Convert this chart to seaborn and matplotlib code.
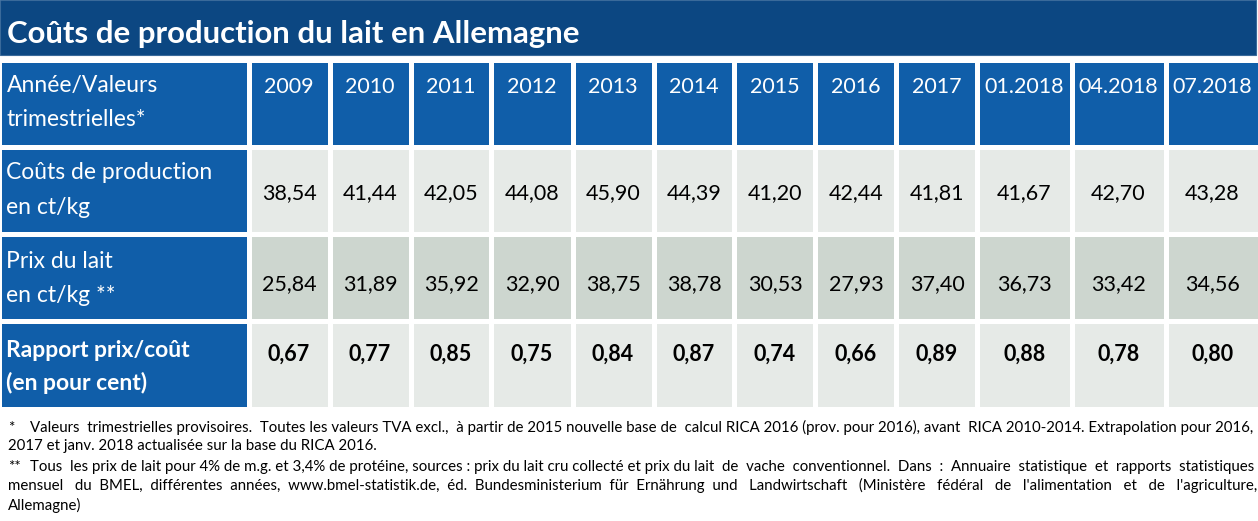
import numpy as np
import matplotlib
matplotlib.use("Agg")
import matplotlib.pyplot as plt
from matplotlib.colors import ListedColormap
from matplotlib.patches import Rectangle
import seaborn as sns

# --- données ---
titre = "Coûts de production du lait en Allemagne"
periodes = ["2009", "2010", "2011", "2012", "2013", "2014", "2015", "2016",
            "2017", "01.2018", "04.2018", "07.2018"]
libelles = [["Année/Valeurs", "trimestrielles*"],
            ["Coûts de production", "en ct/kg"],
            ["Prix du lait", "en ct/kg **"],
            ["Rapport prix/coût", "(en pour cent)"]]
couts = [38.54, 41.44, 42.05, 44.08, 45.90, 44.39, 41.20, 42.44, 41.81, 41.67, 42.70, 43.28]
prix = [25.84, 31.89, 35.92, 32.90, 38.75, 38.78, 30.53, 27.93, 37.40, 36.73, 33.42, 34.56]
rapport = [0.67, 0.77, 0.85, 0.75, 0.84, 0.87, 0.74, 0.66, 0.89, 0.88, 0.78, 0.80]
notes = [
    ("*", "Valeurs trimestrielles provisoires. Toutes les valeurs TVA excl., à partir de 2015 nouvelle base de calcul RICA 2016 (prov. pour 2016), avant RICA 2010-2014. Extrapolation pour 2016,", True),
    ("", "2017 et janv. 2018 actualisée sur la base du RICA 2016.", False),
    ("**", "Tous les prix de lait pour 4% de m.g. et 3,4% de protéine, sources : prix du lait cru collecté et prix du lait de vache conventionnel. Dans : Annuaire statistique et rapports statistiques", True),
    ("", "mensuel du BMEL, différentes années, www.bmel-statistik.de, éd. Bundesministerium für Ernährung und Landwirtschaft (Ministère fédéral de l'alimentation et de l'agriculture,", True),
    ("", "Allemagne)", False),
]

BLEU_TITRE = "#0c4782"
BLEU = "#105ea9"
CLAIR = "#e6eae7"
MOYEN = "#cdd6cf"

W, H = 1258, 521
sns.set_style("white")
plt.rcParams["font.family"] = ["Lato", "DejaVu Sans"]

fig = plt.figure(figsize=(W / 100, H / 100), dpi=100)
fig.patch.set_facecolor("white")


def fx(px):
    return px / W


def fy(py):
    return 1 - py / H


# bandeau titre
fig.patches.append(Rectangle((fx(0), fy(55)), fx(1256), 55 / H, transform=fig.transFigure,
                             facecolor=BLEU_TITRE, edgecolor="#3a6a9a", linewidth=0.8))
fig.text(fx(7), fy(34), titre, color="white", fontsize=22.4, fontweight="bold", va="center")

# tableau : trois axes (libellés, années, trimestres)
top, bot = 59.5, 408.5
codes_lignes = [0, 1, 2, 1]
cmap = ListedColormap([BLEU, CLAIR, MOYEN])
valeurs = [None, couts, prix, rapport]
n_an = 9
blocs = [(-1.5, 248.5, None), (248.5, 977.5, slice(0, n_an)), (977.5, 1259.5, slice(n_an, None))]

for x0, x1, sl in blocs:
    ax = fig.add_axes([fx(x0), fy(bot), fx(x1) - fx(x0), (bot - top) / H])
    ncol = 1 if sl is None else len(periodes[sl])
    mat = np.array([[c] * ncol for c in codes_lignes]) if sl is not None else np.zeros((4, 1))
    sns.heatmap(mat, ax=ax, cmap=cmap, vmin=-0.5, vmax=2.5, cbar=False,
                linewidths=2.2, linecolor="white", xticklabels=False, yticklabels=False)
    ax.set_xlabel("")
    ax.set_ylabel("")
    if sl is None:
        dy = [(0.30, 0.69), (0.295, 0.70), (0.32, 0.705), (0.34, 0.71)]
        for r, lignes in enumerate(libelles):
            poids = "bold" if r == 3 else "normal"
            for k, txt in enumerate(lignes):
                ax.text(8 / 250, r + dy[r][k], txt, color="white", fontsize=16.5,
                        fontweight=poids, va="center", ha="left")
        continue
    for j, per in enumerate(periodes[sl]):
        ax.text(j + 0.5, 0.31, per, color="white", fontsize=15.5, ha="center", va="center")
    for r, pos in [(1, 0.53), (2, 0.57), (3, 0.38)]:
        for j, v in enumerate(valeurs[r][sl]):
            s = f"{v:.2f}".replace(".", ",")
            ax.text(j + 0.5, r + pos, s, color="black", fontsize=15.5, ha="center", va="center",
                    fontweight="bold" if r == 3 else "normal")

# notes de bas de page (justifiées en ajoutant des espaces)
renderer = fig.canvas.get_renderer()
kw = dict(fontsize=10.8, color="black", va="baseline")


def largeur(s):
    t = fig.text(0, 0, s, **kw)
    w = t.get_window_extent(renderer).width
    t.remove()
    return w


esp = (largeur("a" + " " * 20 + "a") - largeur("aa")) / 20


def ligne(texte, xa, xb, y, justifier):
    if justifier:
        mots = texte.split()
        n_gaps = len(mots) - 1
        extra = int(round((xb - xa - largeur(texte)) / esp))
        if extra > 0:
            gaps = [1 + extra // n_gaps + (1 if i < extra % n_gaps else 0) for i in range(n_gaps)]
            # répartir les espaces en plus de façon régulière
            ordre = sorted(range(n_gaps), key=lambda i: (i * 7919) % n_gaps)
            gaps2 = [0] * n_gaps
            for i, g in zip(ordre, gaps):
                gaps2[i] = g
            texte = mots[0] + "".join(" " * g + m for g, m in zip(gaps2, mots[1:]))
    fig.text(fx(xa), fy(y), texte, **kw)


ys = [432, 450, 471, 490, 510]
for (marque, texte, just), y in zip(notes, ys):
    if marque:
        fig.text(fx(8), fy(y), marque, **kw)
        ligne(texte, 30, 1254, y, just)
    else:
        ligne(texte, 8, 1256, y, just)

fig.savefig("out.png", dpi=100, facecolor="white")
